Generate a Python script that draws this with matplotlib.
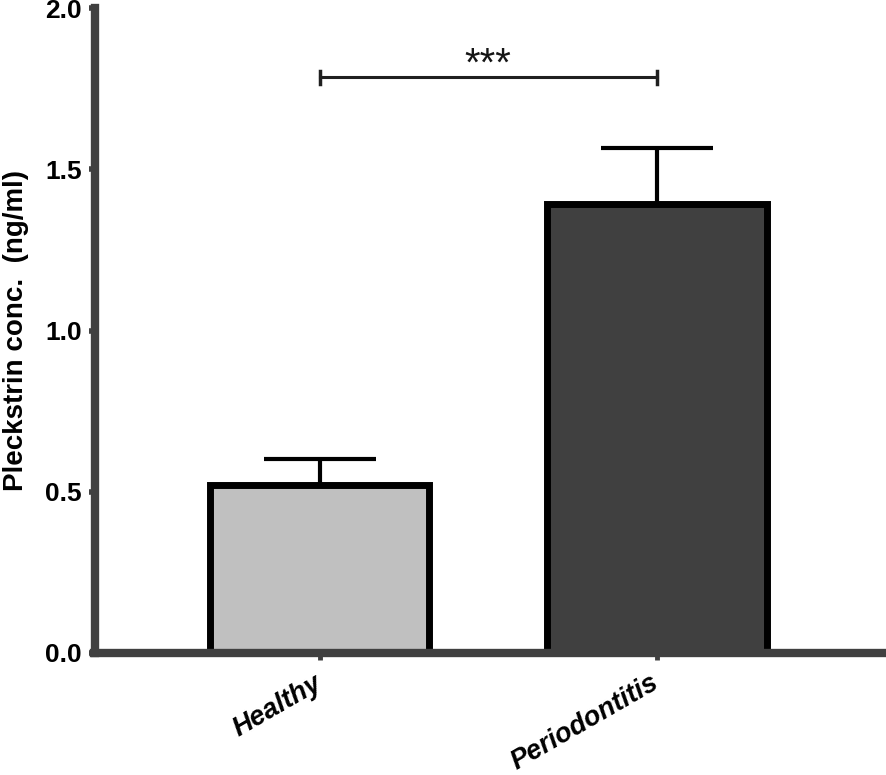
import numpy as np
import matplotlib
matplotlib.use('Agg')
import matplotlib.pyplot as plt

plt.rcParams.update({
    'font.family': ['Liberation Sans', 'DejaVu Sans'],
    'font.weight': 'bold',
})

# data
groups = ['Healthy', 'Periodontitis']
means = [0.521, 1.392]
sems = [0.081, 0.175]
bar_colors = ['#c0c0c0', '#404040']
sig_label = '***'
sig_y = 1.785
y_ticks = [0.0, 0.5, 1.0, 1.5, 2.0]

C_AXIS = '#404040'

fig = plt.figure(figsize=(8.86, 7.75), dpi=100)
W, H = 886, 775
ax = fig.add_axes([94.5 / W, (H - 653) / H, (W - 94.5) / W, (653 - 8) / H])

x = np.arange(len(groups))
ax.bar(x, means, width=0.65, color=bar_colors, edgecolor='black',
       linewidth=5, zorder=2)
ax.errorbar(x, means, yerr=[np.zeros(len(sems)), sems], fmt='none',
            ecolor='black', elinewidth=3, capsize=40, capthick=3, zorder=1)

# significance bracket
ax.plot([x[0], x[1]], [sig_y, sig_y], color='#202020', lw=2.2, zorder=3)
for xi in x:
    ax.plot([xi, xi], [sig_y - 0.02, sig_y + 0.02], color='#202020', lw=2.5,
            zorder=3)
ax.text((x[0] + x[1]) / 2, 1.825, sig_label, ha='center', va='center',
        fontsize=29, fontweight='normal', color='#151515')

ax.set_xlim(-0.667, 1.679)
ax.set_ylim(0, 2.0)
ax.set_yticks(y_ticks)
ax.set_yticklabels([f'{v:.1f}' for v in y_ticks], fontsize=19, fontweight='bold')
ax.set_xticks(x)
ax.set_xticklabels(groups, rotation=30, ha='right', va='center',
                   rotation_mode='anchor',
                   fontsize=19.5, fontweight='bold', style='italic')
ax.set_ylabel('Pleckstrin conc.  (ng/ml)', fontsize=20, fontweight='bold',
              labelpad=12)

for side in ['top', 'right']:
    ax.spines[side].set_visible(False)
for side in ['left', 'bottom']:
    ax.spines[side].set_linewidth(6)
    ax.spines[side].set_color(C_AXIS)
    ax.spines[side].set_zorder(3)
ax.tick_params(axis='y', length=4, width=4, color=C_AXIS, pad=5)
ax.tick_params(axis='x', length=5, width=3.5, color=C_AXIS, pad=15.5)

fig.savefig('out.png', dpi=100, facecolor='white')
